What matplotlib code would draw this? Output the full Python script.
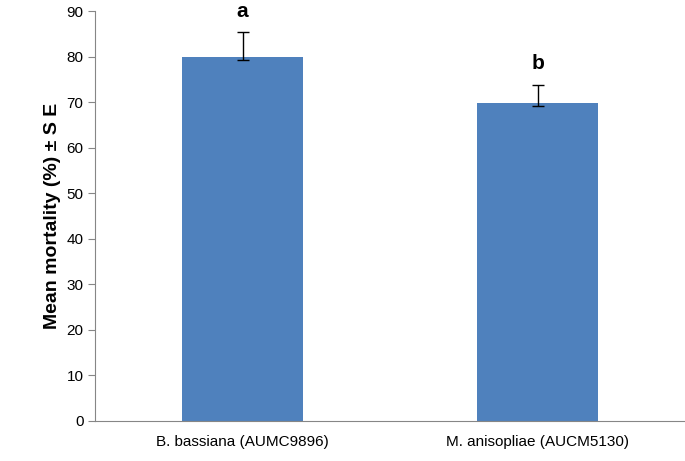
import matplotlib
matplotlib.use("Agg")
import matplotlib.pyplot as plt
import numpy as np

categories = ["B. bassiana (AUMC9896)", "M. anisopliae (AUCM5130)"]
means = [80.0, 69.8]
err_low = [0.8, 0.6]
err_high = [5.3, 4.0]
letters = ["a", "b"]

fig = plt.figure(figsize=(6.85, 4.61), dpi=100)
ax = fig.add_axes([0.139, 0.087, 0.861, 0.889])
x = np.arange(len(categories))
ax.bar(x, means, width=0.41, color="#4F81BD", zorder=2)
ax.errorbar(x, means, yerr=[err_low, err_high], fmt="none", ecolor="black",
            elinewidth=1, capsize=4, capthick=1, zorder=3)
for xi, m, eh, l in zip(x, means, err_high, letters):
    ax.text(xi, m + eh + 2.5, l, ha="center", va="bottom", fontsize=15,
            fontweight="bold", family="Liberation Sans")
ax.set_xlim(-0.5, 1.5)
ax.set_ylim(0, 90)
ax.set_yticks(range(0, 91, 10))
ax.set_xticks(x)
ax.set_xticklabels(categories, fontsize=11, family="Liberation Sans")
for t in ax.get_yticklabels():
    t.set_fontsize(11); t.set_family("Liberation Sans")
ax.set_ylabel("Mean mortality (%) ± S E", fontsize=14, fontweight="bold",
              family="Liberation Sans")
for s in ["top", "right"]:
    ax.spines[s].set_visible(False)
ax.spines["left"].set_color("#868686")
ax.spines["bottom"].set_color("#868686")
ax.tick_params(axis="x", length=0, pad=10)
ax.tick_params(axis="y", direction="out", length=5, color="#868686")
fig.savefig("out.png", dpi=100)
